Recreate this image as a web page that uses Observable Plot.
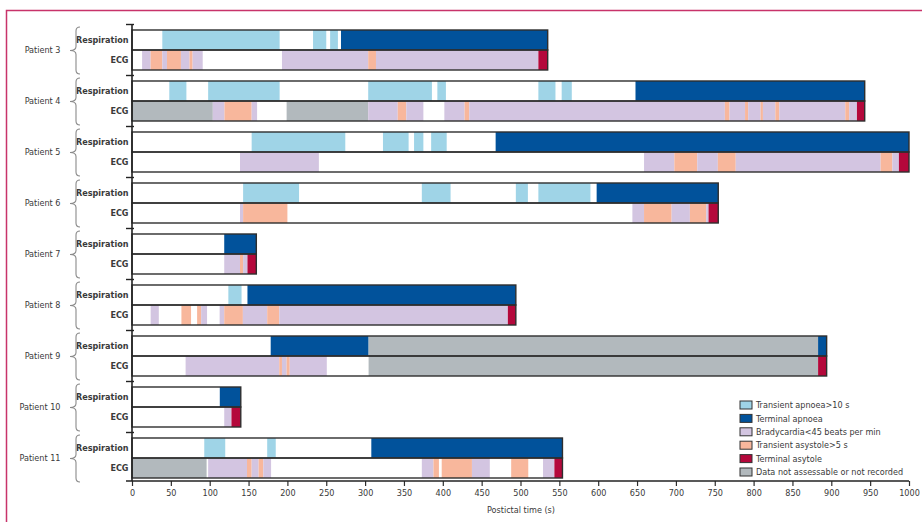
<!DOCTYPE html>
<html><head><meta charset="utf-8">
<script src="https://cdn.jsdelivr.net/npm/d3@7"></script>
<script src="https://cdn.jsdelivr.net/npm/@observablehq/plot@0.6"></script>
<style>
body{margin:0;background:#fff;}
#wrap{width:922px;height:522px;overflow:hidden;}
</style></head><body><div id="wrap"></div>
<script>
// ---- data ----
const patients = ["Patient 3","Patient 4","Patient 5","Patient 6","Patient 7","Patient 8","Patient 9","Patient 10","Patient 11"];
const recordEnd = [535, 943, 1000, 754.5, 160, 494, 894, 140, 554];
const rowLabels = ["Respiration", "ECG"];
const xTicks = [0,50,100,150,200,250,300,350,400,450,500,550,600,650,700,750,800,850,900,950,1000];

const eventCodes  = ["TA","TP","B","AS","TS","NA"];
const eventLabels = ["Transient apnoea>10 s","Terminal apnoea","Bradycardia<45 beats per min","Transient asystole>5 s","Terminal asytole","Data not assessable or not recorded"];
const eventColors = ["#9fd4e7","#01529b","#d3c5e1","#f8b79c","#b4083b","#b2b9bd"];

// segments: [start s, end s, event code]
const resp3 = [[39,190,"TA"],[233,250,"TA"],[255,265,"TA"],[269,535,"TP"]];
const ecg3  = [[13,24,"B"],[24,39,"AS"],[39,45,"B"],[45,63,"AS"],[63,74,"B"],[74,78,"AS"],[78,91,"B"],[193,304,"B"],[304,314,"AS"],[314,523,"B"],[523,535,"TS"]];
const resp4 = [[48,70,"TA"],[98,190,"TA"],[304,386,"TA"],[393,404,"TA"],[523,545,"TA"],[553,566,"TA"],[648,943,"TP"]];
const ecg4  = [[0,104,"NA"],[104,119,"B"],[119,154,"AS"],[154,161,"B"],[199,304,"NA"],[304,342,"B"],[342,353,"AS"],[353,375,"B"],[402,428,"B"],[428,434,"AS"],[434,763,"B"],[763,769,"AS"],[769,789,"B"],[789,793,"AS"],[793,809,"B"],[809,812,"AS"],[812,828,"B"],[828,833,"AS"],[833,918,"B"],[918,923,"AS"],[923,933,"B"],[933,943,"TS"]];
const resp5 = [[154,274.5,"TA"],[323,356,"TA"],[363,375,"TA"],[385,405,"TA"],[468,1000,"TP"]];
const ecg5  = [[139,240.5,"B"],[659,698,"B"],[698,727.5,"AS"],[727.5,754,"B"],[754,777,"AS"],[777,963.5,"B"],[963.5,978.5,"AS"],[978.5,987,"B"],[987,1000,"TS"]];
const resp6 = [[143,215,"TA"],[373,410,"TA"],[494,509.5,"TA"],[523,590,"TA"],[598,754.5,"TP"]];
const ecg6  = [[139,143,"B"],[143,200,"AS"],[644,659,"B"],[659,694.5,"AS"],[694.5,718,"B"],[718,739,"AS"],[739,742,"B"],[742,754.5,"TS"]];
const resp7 = [[118.7,160,"TP"]];
const ecg7  = [[118.7,139,"B"],[139,143,"AS"],[143,148.6,"B"],[148.6,160,"TS"]];
const resp8 = [[124,141,"TA"],[148.6,494,"TP"]];
const ecg8  = [[24,34.5,"B"],[63.6,76,"AS"],[83.8,89,"AS"],[89,96.6,"B"],[112.8,118.7,"B"],[118.7,142.7,"AS"],[142.7,174,"B"],[174,189.5,"AS"],[189.5,483.7,"B"],[483.7,494,"TS"]];
const resp9 = [[178.5,304.5,"TP"],[304.5,883,"NA"],[883,894,"TP"]];
const ecg9  = [[69,189.5,"B"],[189.5,193,"AS"],[193,199,"B"],[199,203,"AS"],[203,250.7,"B"],[304.5,883,"NA"],[883,894,"TS"]];
const resp10 = [[113,140,"TP"]];
const ecg10  = [[118.7,128,"B"],[128,140,"TS"]];
const resp11 = [[93,120,"TA"],[174,185,"TA"],[308,554,"TP"]];
const ecg11  = [[0,96,"NA"],[98,148,"B"],[148,154,"AS"],[154,163,"B"],[163,169,"AS"],[169,179,"B"],[373,388,"B"],[388,395,"AS"],[398.6,437.5,"AS"],[437.5,460.5,"B"],[488,510,"AS"],[529,543.6,"B"],[543.6,554,"TS"]];

const respSegments = [resp3,resp4,resp5,resp6,resp7,resp8,resp9,resp10,resp11];
const ecgSegments  = [ecg3,ecg4,ecg5,ecg6,ecg7,ecg8,ecg9,ecg10,ecg11];

// ---- tables ----
const toRows = (lists) => lists.flatMap((segs, i) => segs.map(([a, b, c]) => ({patient: patients[i], x1: a, x2: b, code: c})));
const respRows = toRows(respSegments);
const ecgRows = toRows(ecgSegments);
const outlines = patients.map((p, i) => ({patient: p, end: recordEnd[i]}));

const FONT = "'Liberation Sans Narrow','DejaVu Sans Condensed','Liberation Sans',Arial,sans-serif";
const TXT = "#3a3a3a";
const half = 20; // half of the patient band height (two rows)

const chart = Plot.plot({
  width: 922, height: 522,
  marginTop: 27, marginBottom: 41, marginLeft: 132, marginRight: 13,
  style: {fontFamily: FONT, fontSize: "9px", color: TXT, background: "#fff"},
  x: {domain: [0, 1000], label: null},
  y: {domain: patients, paddingInner: 11/51, paddingOuter: 3/51, axis: null},
  color: {domain: eventCodes, range: eventColors},
  marks: [
    Plot.barX(respRows, {x1: "x1", x2: "x2", y: "patient", fill: "code", insetBottom: half}),
    Plot.barX(ecgRows, {x1: "x1", x2: "x2", y: "patient", fill: "code", insetTop: half}),
    Plot.barX(outlines, {x1: 0, x2: "end", y: "patient", insetBottom: half, fill: "none", stroke: "#2e2e2e", strokeWidth: 1.4}),
    Plot.barX(outlines, {x1: 0, x2: "end", y: "patient", insetTop: half, fill: "none", stroke: "#2e2e2e", strokeWidth: 1.4}),
    Plot.axisX({ticks: xTicks, tickFormat: d => String(d), tickSize: 5, tickPadding: 3, label: null, fontSize: 9, stroke: "#2e2e2e", strokeWidth: 1.2}),
    Plot.text(patients, {x: 0, y: d => d, text: () => rowLabels[0], dx: -4, dy: -half/2, textAnchor: "end", fontSize: 9, fontWeight: "bold", fill: TXT}),
    Plot.text(patients, {x: 0, y: d => d, text: () => rowLabels[1], dx: -4, dy: half/2, textAnchor: "end", fontSize: 9, fontWeight: "bold", fill: TXT}),
    Plot.text(patients, {x: 0, y: d => d, text: d => d, dx: -72, textAnchor: "end", fontSize: 9, fill: TXT}),
    Plot.text(["Postictal time (s)"], {frameAnchor: "bottom", dy: 31, fontSize: 9, fill: TXT})
  ]
});

// ---- decorations: y axis line, boundary ticks, braces, legend, page border ----
const ys = chart.scale("y");
const xs = chart.scale("x");
const bw = ys.bandwidth;
const x0 = xs.apply(0);
const svg = d3.select(chart);
const deco = svg.append("g");
const gap = ys.step - bw;
const bottomY = 522 - 41;

deco.append("line").attr("x1", x0).attr("x2", x0).attr("y1", ys.apply(patients[0]) - gap/2).attr("y2", bottomY)
  .attr("stroke", "#222").attr("stroke-width", 1.6);
deco.append("line").attr("x1", x0 - 6).attr("x2", xs.apply(1000)).attr("y1", bottomY).attr("y2", bottomY)
  .attr("stroke", "#222").attr("stroke-width", 1.4);

patients.forEach(p => {
  const y0 = ys.apply(p), y1 = y0 + bw;
  deco.append("line").attr("x1", x0 - 6).attr("x2", x0 + 2).attr("y1", y0 - gap/2).attr("y2", y0 - gap/2)
    .attr("stroke", "#222").attr("stroke-width", 1.4);
  const top = y0 - 3, bot = y1 + 4, mid = (top + bot) / 2;
  const xr = 80, xm = 76, xt = 70;
  deco.append("path")
    .attr("d", `M${xr},${top} Q${xm},${top} ${xm},${top+4} L${xm},${mid-4} Q${xm},${mid} ${xt},${mid} Q${xm},${mid} ${xm},${mid+4} L${xm},${bot-4} Q${xm},${bot} ${xr},${bot}`)
    .attr("fill", "none").attr("stroke", "#8a8a8a").attr("stroke-width", 1.1);
});

const lg = deco.append("g").attr("font-family", FONT).attr("font-size", 9).attr("fill", TXT).attr("text-anchor", "start");
eventCodes.forEach((c, i) => {
  const cy = 405 + i * 13.4;
  lg.append("rect").attr("x", 740).attr("y", cy - 4).attr("width", 12).attr("height", 8)
    .attr("fill", eventColors[i]).attr("stroke", "#333").attr("stroke-width", 1);
  lg.append("text").attr("x", 756).attr("y", cy).attr("dy", "0.35em").attr("text-anchor", "start").text(eventLabels[i]);
});

deco.append("path").attr("d", "M6.5,530 L6.5,10.5 L930,10.5").attr("fill", "none")
  .attr("stroke", "#c8336a").attr("stroke-width", 1.5);

document.getElementById("wrap").appendChild(chart);
</script>
</body></html>
